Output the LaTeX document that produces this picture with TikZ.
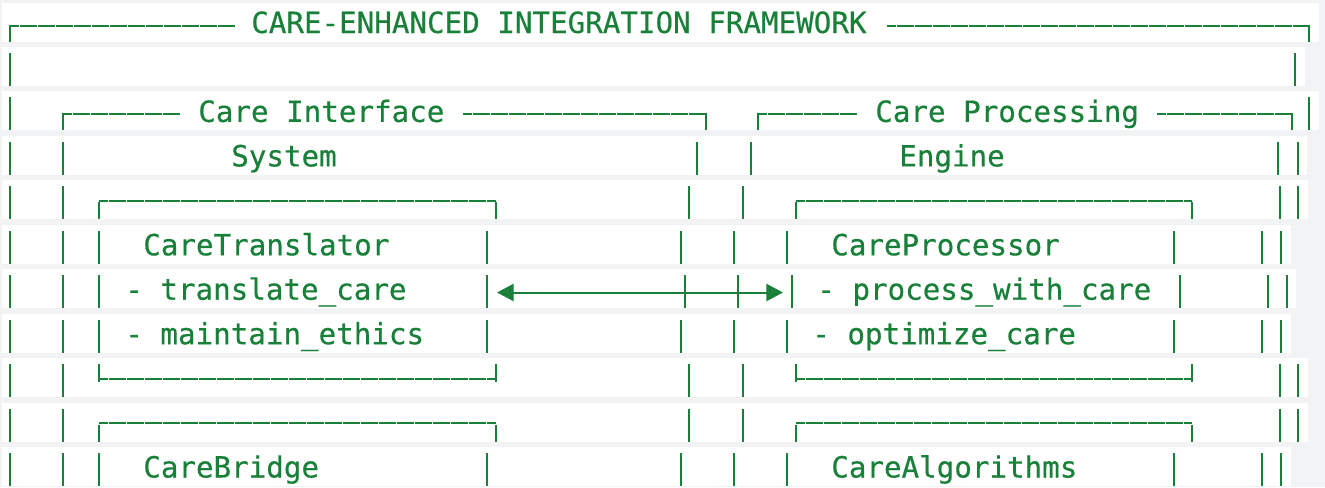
\documentclass[tikz,border=0pt]{standalone}
\usepackage{fontspec}
\usetikzlibrary{arrows.meta}
\newfontfamily\codefont[FakeBold=0.4]{DejaVu Sans Mono}
\definecolor{codegreen}{HTML}{188038}
\definecolor{codegrey}{HTML}{F1F3F4}

\begin{document}
\begin{tikzpicture}[x=0.75pt,y=-0.75pt,
  txt/.style={anchor=base west,inner sep=0pt,text=codegreen,font=\codefont\fontsize{21.9}{26}\selectfont},
  bar/.style={draw=codegreen,line width=1.5pt},
  hbar/.style={bar,dash pattern=on 12.75pt off 0.75pt,dash phase=5.8pt}]

% page and line bands
\fill[codegrey] (0,0) rectangle (1325,487);
\foreach \r/\w in {0/1319,1/1305,2/1319,3/1307,4/1308,5/1291,6/1296,7/1291,8/1308,9/1308,10/1291}
  \fill[white] (2,2.5+44.45*\r) rectangle (\w,41.5+44.45*\r);

% full height bars
\foreach \x in {10,1295} \draw[bar] (\x,52.95) -- (\x,85.95);
\foreach \x in {10,1309} \draw[bar] (\x,97.4) -- (\x,130.4);
\foreach \x in {10,63,697,751,1278,1298} \draw[bar] (\x,141.85) -- (\x,174.85);
\foreach \x in {10,63,685,738,99,487,792,1180,1268,1287} \draw[bar] (\x,275.2) -- (\x,308.2);
\foreach \r in {4,8,9}
  \foreach \x in {10,63,689,743,1280,1298} \draw[bar] (\x,8.5+44.45*\r) -- (\x,41.5+44.45*\r);
\foreach \r in {5,7,10}
  \foreach \x in {10,63,99,487,681,734,787,1174,1262,1281} \draw[bar] (\x,8.5+44.45*\r) -- (\x,41.5+44.45*\r);

% corners
\foreach \x in {10,1309} \draw[bar] (\x,24.5) -- (\x,41.5);
\foreach \x in {63,706,758,1292} \draw[bar] (\x,113.4) -- (\x,130.4);
\foreach \r in {4,9}
  \foreach \x in {99,496,796,1192} \draw[bar] (\x,24.5+44.45*\r) -- (\x,41.5+44.45*\r);
\foreach \x in {99,496,796,1192} \draw[bar] (\x,364.1) -- (\x,382.1);

% horizontal rules
\draw[hbar] (10,25.5) -- (235,25.5);
\draw[hbar] (887,25.5) -- (1309,25.5);
\draw[hbar] (63,114.4) -- (180,114.4);
\draw[hbar] (463,114.4) -- (706,114.4);
\draw[hbar] (758,114.4) -- (857,114.4);
\draw[hbar] (1157,114.4) -- (1292,114.4);
\foreach \r in {4,8,9} {
  \draw[hbar] (99,23+44.45*\r) -- (496,23+44.45*\r);
  \draw[hbar] (796,23+44.45*\r) -- (1192,23+44.45*\r);
}

\node[txt] (title) at (251,33) {CARE-ENHANCED INTEGRATION FRAMEWORK};
\node[txt] (iface) at (198,121.9) {Care Interface};
\node[txt] (procT) at (875,121.9) {Care Processing};
\node[txt] (system) at (231,166.4) {System};
\node[txt] (engine) at (899,166.4) {Engine};
\node[txt] (translator) at (143,255.3) {CareTranslator};
\node[txt] (processor) at (831,255.3) {CareProcessor};
\node[txt] (tcare) at (125,299.7) {- translate\_care};
\node[txt] (pwcare) at (817,299.7) {- process\_with\_care};
\node[txt] (ethics) at (125,344.2) {- maintain\_ethics};
\node[txt] (optcare) at (812,344.2) {- optimize\_care};
\node[txt] (bridge) at (143,477.5) {CareBridge};
\node[txt] (algos) at (831,477.5) {CareAlgorithms};

\coordinate (arrL) at (497,292.5);
\coordinate (arrR) at (783,292.5);
\draw[bar,<->,>={Triangle[length=12.4pt,width=12.75pt]}] (arrL) -- (arrR);

\end{tikzpicture}
\end{document}
